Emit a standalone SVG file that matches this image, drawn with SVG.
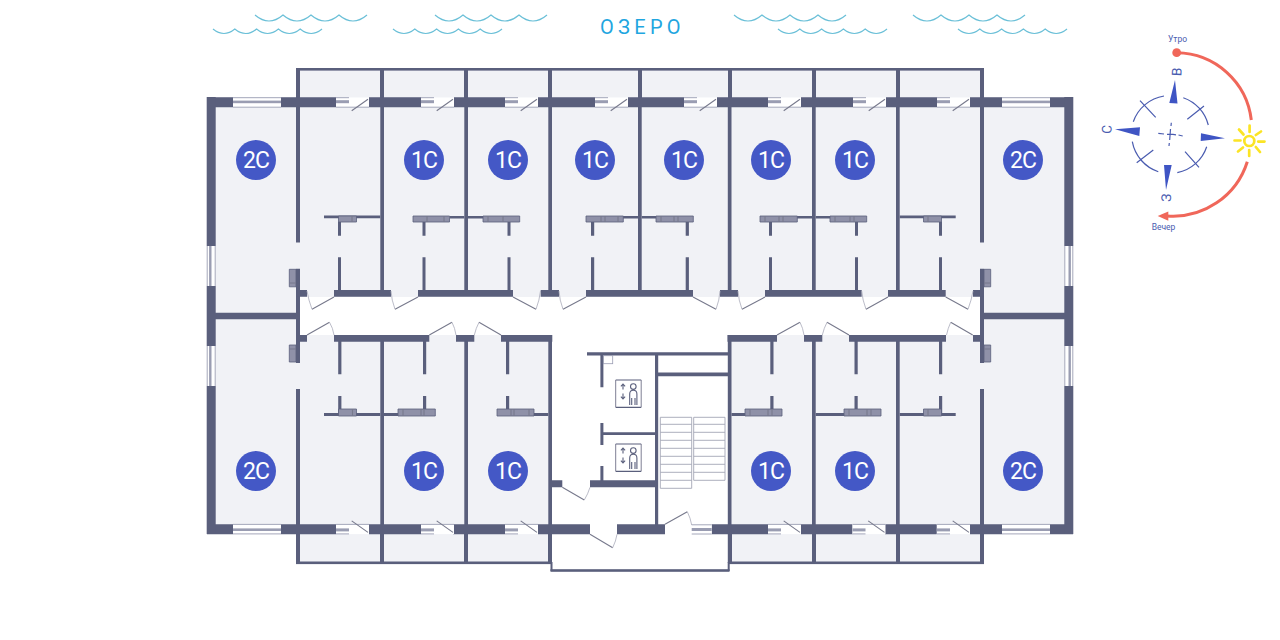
<svg xmlns="http://www.w3.org/2000/svg" xmlns:xlink="http://www.w3.org/1999/xlink" width="1280" height="640" viewBox="0 0 1280 640">
<style>
.w{fill:#5a5f7c}
.f{fill:#f1f2f6}
.n{fill:#fff}
.b{fill:#8f91a8;stroke:#5a5f7c;stroke-width:.8}
.g{fill:#9a9db2}
.o{fill:none;stroke:#9a9db2;stroke-width:.9}
.leaf{fill:none;stroke:#77798c;stroke-width:1.1}
.swing{fill:none;stroke:#a9abba;stroke-width:.8}
.stair{fill:none;stroke:#a4a6b5;stroke-width:.9}
.wave{fill:none;stroke:#6cc0d8;stroke-width:1.2}
.badge{fill:#4458c6}
.bt{fill:#fff;font:400 23px Roboto,"Noto Sans",sans-serif;text-anchor:middle;letter-spacing:-1px}
.comp{fill:none;stroke:#4a5cb0;stroke-width:1.2}
.tri{fill:#3f55c4}
.lbl{fill:#4a5cb0;font-family:Roboto,"Noto Sans",sans-serif;text-anchor:middle}
.sun{fill:none;stroke:#fbe425;stroke-width:2.7;stroke-linecap:round}
.sol{fill:none;stroke:#f0675a;stroke-width:3}
.lf{fill:none;stroke:#5a5f7c;stroke-width:1.1}
</style>
<defs>
<g id="wv1"><path class="wave" d="M0 15q14 12 28 0q14 12 28 0q14 12 28 0q14 12 28 0"/></g>
<g id="wv2"><path class="wave" d="M0 29q11 9 21.8 0q11 9 21.8 0q11 9 21.8 0q11 9 21.8 0q11 9 21.8 0"/></g>
<g id="pd">
<rect class="n" x="0" y="0.3" width="33" height="10"/>
<path class="o" d="M0 .5H13M0 10H33"/>
<rect class="g" x="0" y="3" width="13" height="3"/>
<path class="leaf" d="M32 2L15.7 13.5"/>
</g>
<g id="wn"><rect class="n" x="0" y=".3" width="48" height="10"/><path class="o" d="M0 .5H48M0 10H48"/><rect class="g" x="0" y="3.4" width="48" height="2.6"/></g>
<g id="wv"><rect class="n" x="0" y="0" width="9" height="40"/><path class="o" d="M.5 0V40M8.5 0V40"/><rect class="g" x="2.4" y="0" width="2.4" height="40"/></g>
<g id="lift">
<path d="M0 0H25.5M0 27.3H25.5" fill="none" stroke="#5a5f7c" stroke-width="1.2"/>
<path d="M0 0V27.3M25.5 0V27.3" fill="none" stroke="#6f7288" stroke-width=".9"/>
<circle class="lf" cx="17.6" cy="6.6" r="2.8"/>
<path class="lf" d="M14 25V14Q14 10.2 17.6 10.2T21.2 14V25M16 25V18M19.3 25V18"/>
<path class="lf" d="M7.3 9.5V4.5M5.2 6.4L7.3 4L9.4 6.4M7.3 13.5V18.5M5.2 16.6L7.3 19L9.4 16.6"/>
</g>
</defs>

<g id="lake">
<use xlink:href="#wv1" href="#wv1" x="255"/><use xlink:href="#wv1" href="#wv1" x="435"/><use xlink:href="#wv1" href="#wv1" x="734"/><use xlink:href="#wv1" href="#wv1" x="913"/>
<use xlink:href="#wv2" href="#wv2" x="213"/><use xlink:href="#wv2" href="#wv2" x="393"/><use xlink:href="#wv2" href="#wv2" x="778"/><use xlink:href="#wv2" href="#wv2" x="958"/>
<text x="600" y="34" fill="#1fa6e0" font-family="Roboto,'Noto Sans',sans-serif" font-weight="400" font-size="20" letter-spacing="4.3">ОЗЕРО</text>
</g>

<g id="floors">
<rect class="f" x="207" y="97" width="866" height="437"/>
<rect class="f" x="296" y="68" width="688" height="30"/>
<rect class="f" x="296" y="533" width="688" height="30"/>
<rect class="n" x="300" y="297" width="680" height="38"/>
<rect class="n" x="552" y="335" width="176" height="235"/>
</g>

<g id="walls">
<!-- balcony frame -->
<rect class="w" x="296" y="68" width="688" height="2.6"/>
<rect class="w" x="296" y="561.5" width="255" height="2.6"/>
<rect class="w" x="728" y="561.5" width="256" height="2.6"/>
<rect class="w" x="550.5" y="569.2" width="179" height="2.6"/>
<rect class="w" x="550.5" y="562" width="2" height="9"/>
<rect class="w" x="727.7" y="562" width="2" height="9"/>
<path class="w" d="M296 68h4v30h-4zM380 68h4v30h-4zM464 68h4v30h-4zM548 68h4v30h-4zM638 68h4v30h-4zM728 68h4v30h-4zM812 68h4v30h-4zM896 68h4v30h-4zM980 68h4v30h-4z"/>
<path class="w" d="M296 533h4v31h-4zM380 533h4v31h-4zM464 533h4v31h-4zM548 533h4v31h-4zM728 533h4v31h-4zM812 533h4v31h-4zM896 533h4v31h-4zM980 533h4v31h-4z"/>
<!-- outer top -->
<path class="w" d="M207 97.3h26v10h-26zM281 97.3h55v10h-55zM369 97.3h52v10h-52zM454 97.3h51v10h-51zM538 97.3h57v10h-57zM628 97.3h56v10h-56zM717 97.3h51v10h-51zM801 97.3h52v10h-52zM886 97.3h51v10h-51zM970 97.3h32v10h-32zM1050 97.3h23v10h-23z"/>
<!-- outer bottom -->
<path class="w" d="M207 524.3h26v10h-26zM281 524.3h55v10h-55zM369 524.3h52v10h-52zM453 524.3h52v10h-52zM538 524.3h52v10h-52zM617 524.3h48v10h-48zM711.7 524.3h56.3v10h-56.3zM801 524.3h51.5v10h-51.5zM885 524.3h51.7v10h-51.7zM970 524.3h32v10h-32zM1050 524.3h23v10h-23z"/>
<!-- outer sides -->
<path class="w" d="M206.7 97h9v149h-9zM206.7 286h9v60h-9zM206.7 386h9v148h-9zM1064.3 97h9v149h-9zM1064.3 286h9v60h-9zM1064.3 386h9v148h-9z"/>
<!-- party walls -->
<path class="w" d="M215 312.8h81v6.5h-81zM984 312.8h81v6.5h-81z"/>
<path class="w" d="M296 107h4v135.5h-4zM296 268.7h4v94.3h-4zM296 389h4v136h-4zM980 107h4v135.5h-4zM980 268.7h4v94.3h-4zM980 389h4v136h-4z"/>
<path class="w" d="M380.3 107h3.7v183h-3.7zM464.3 107h3.7v183h-3.7zM548.3 107h3.7v184h-3.7zM638 107h3.7v183h-3.7zM727.8 107h3.7v184h-3.7zM812 107h3.7v183h-3.7zM896 107h3.7v183h-3.7z"/>
<path class="w" d="M380.3 341h3.7v184h-3.7zM464.3 341h3.7v184h-3.7zM548.3 335h3.7v228h-3.7zM727.8 335h3.7v228h-3.7zM812 341h3.7v184h-3.7zM896 341h3.7v184h-3.7z"/>
<!-- corridor walls -->
<path class="w" d="M296 290h11v6.8h-11zM334 290h57v6.8h-57zM418 290h95v6.8h-95zM540.7 290h18.3v6.8h-18.3zM586 290h107v6.8h-107zM720 290h18v6.8h-18zM765 290h96.7v6.8h-96.7zM888 290h57.7v6.8h-57.7zM973 290h11v6.8h-11z"/>
<path class="w" d="M296 335h11v6.8h-11zM334 335h95.3v6.8h-95.3zM456 335h18.3v6.8h-18.3zM501 335h51.3v6.8h-51.3zM727.5 335h49.5v6.8h-49.5zM804 335h18.3v6.8h-18.3zM849 335h97v6.8h-97zM973 335h11v6.8h-11z"/>
<!-- bathroom partitions upper -->
<path class="w" d="M324 215.5h56.3v2.8h-56.3zM450 216h14.3v2.4h-14.3zM468 216h15v2.4h-15zM623 216h15v2.4h-15zM641.7 216h14.3v2.4h-14.3zM797 216h15v2.4h-15zM815.7 216h14.3v2.4h-14.3zM899.7 215.5h56v2.8h-56z"/>
<path class="w" d="M338 222h3v13.7h-3zM338 257.3h3v33h-3zM422.5 222h3v13.7h-3zM422.5 257.3h3v33h-3zM507.5 222h3v13.7h-3zM507.5 257.3h3v33h-3zM591 222h3.2v13.7h-3.2zM591 257.3h3.2v33h-3.2zM685.7 222h3.2v13.7h-3.2zM685.7 257.3h3.2v33h-3.2zM769 222h3v13.7h-3zM769 257.3h3v33h-3zM855 222h3v13.7h-3zM855 257.3h3v33h-3zM939 222h3v13.7h-3zM939 257.3h3v33h-3z"/>
<!-- bathroom partitions lower -->
<path class="w" d="M324 413h56.3v3h-56.3zM384 413h14v3h-14zM534 413h14.3v3h-14.3zM731.5 413h13.5v3h-13.5zM815.7 413h28.3v3h-28.3zM899.7 413h56v3h-56z"/>
<path class="w" d="M338.2 341h3.2v33.3h-3.2zM338.2 396h3.2v17h-3.2zM423 341h3.2v33.3h-3.2zM423 396h3.2v13h-3.2zM506 341h3.2v33.3h-3.2zM506 396h3.2v13h-3.2zM770.3 341h3.2v33.3h-3.2zM770.3 396h3.2v13h-3.2zM854.5 341h3.2v33.3h-3.2zM854.5 396h3.2v13h-3.2zM939 341h3.2v33.3h-3.2zM939 396h3.2v17h-3.2z"/>
<!-- core -->
<path class="w" d="M587 352.3h141v3.2h-141zM655 352.3h3.2v173h-3.2zM657 372.6h71v3.6h-71zM600.4 354h3v33.3h-3zM600.4 423h3v22h-3zM600.4 466h3v16h-3zM602 432.3h53v2.8h-53zM590 480.2h65v7h-65zM552 480.2h10.3v7h-10.3z"/>
</g>

<g id="fixtures">
<!-- shafts -->
<path class="b" d="M289.3 269.3h6.7v17.5h-6.7zM289.3 345h6.7v17h-6.7zM984 269.3h6.7v17.5h-6.7zM984 345h6.7v17h-6.7z"/>
<path class="leaf" d="M289.3 283h6.7M289.3 349h6.7M984 283h6.7M984 349h6.7"/>
<!-- upper ducts -->
<path class="b" d="M338.5 216h18v6h-18zM413 216h36.5v6h-36.5zM483 216h36.7v6h-36.7zM586 216h37.3v6h-37.3zM656 216h37.3v6h-37.3zM760 216h37.3v6h-37.3zM830 216h36.7v6h-36.7zM923.5 216h18v6h-18z"/>
<path class="leaf" d="M352 216v6M427 216v6M444 216v6M488 216v6M503 216v6M601 216v6M605 216v6M618 216v6M661 216v6M674 216v6M678 216v6M765 216v6M779 216v6M783 216v6M835 216v6M850 216v6M854 216v6M928 216v6"/>
<!-- lower ducts -->
<path class="b" d="M338.5 409h18v7h-18zM398 409h37.3v7h-37.3zM497 409h37v7h-37zM745 409h37v7h-37zM844 409h37v7h-37zM923.5 409h18v7h-18z"/>
<path class="leaf" d="M352.5 409v7M403 409v7M421 409v7M424 409v7M511 409v7M514 409v7M529 409v7M750 409v7M768 409v7M772 409v7M849 409v7M867 409v7M871 409v7M928 409v7"/>
<rect x="603.3" y="355.7" width="9.4" height="8" fill="none" stroke="#9a9db2" stroke-width=".8"/>
<use xlink:href="#lift" href="#lift" transform="translate(615.7 380)"/>
<use xlink:href="#lift" href="#lift" transform="translate(615.7 444)"/>
<!-- stairs -->
<path class="stair" d="M660.3 417.3H691.7V488.3H660.3ZM693.7 417.3H725V480.3H693.7Z"/>
<path class="stair" d="M660.3 424.3H691.7M660.3 432.3H691.7M660.3 440.3H691.7M660.3 448.3H691.7M660.3 456.3H691.7M660.3 464.3H691.7M660.3 472.3H691.7M660.3 480.3H691.7M693.7 424.3H725M693.7 432.3H725M693.7 440.3H725M693.7 448.3H725M693.7 456.3H725M693.7 464.3H725M693.7 472.3H725"/>
</g>

<g id="windows">
<use xlink:href="#wn" href="#wn" x="233" y="97.2"/>
<use xlink:href="#wn" href="#wn" x="1002" y="97.2"/>
<use xlink:href="#wn" href="#wn" transform="translate(233 534.4) scale(1 -1)"/>
<use xlink:href="#wn" href="#wn" transform="translate(1002 534.4) scale(1 -1)"/>
<use xlink:href="#wv" href="#wv" x="206.7" y="246"/>
<use xlink:href="#wv" href="#wv" x="206.7" y="346"/>
<use xlink:href="#wv" href="#wv" transform="translate(1073.3 246) scale(-1 1)"/>
<use xlink:href="#wv" href="#wv" transform="translate(1073.3 346) scale(-1 1)"/>
<use xlink:href="#pd" href="#pd" x="336" y="97.2"/><use xlink:href="#pd" href="#pd" x="421" y="97.2"/><use xlink:href="#pd" href="#pd" x="505" y="97.2"/><use xlink:href="#pd" href="#pd" x="595" y="97.2"/><use xlink:href="#pd" href="#pd" x="684" y="97.2"/><use xlink:href="#pd" href="#pd" x="768" y="97.2"/><use xlink:href="#pd" href="#pd" x="853" y="97.2"/><use xlink:href="#pd" href="#pd" x="937" y="97.2"/>
<use xlink:href="#pd" href="#pd" transform="translate(336 534.4) scale(1 -1)"/><use xlink:href="#pd" href="#pd" transform="translate(421 534.4) scale(1 -1)"/><use xlink:href="#pd" href="#pd" transform="translate(505 534.4) scale(1 -1)"/><use xlink:href="#pd" href="#pd" transform="translate(768 534.4) scale(1 -1)"/><use xlink:href="#pd" href="#pd" transform="translate(852.5 534.4) scale(1 -1)"/><use xlink:href="#pd" href="#pd" transform="translate(937 534.4) scale(1 -1)"/>
<rect class="n" x="691.7" y="524.4" width="20" height="10"/>
<path class="o" d="M691.7 524.8H711.7M691.7 534H711.7"/>
<rect class="g" x="691.7" y="528" width="20" height="3"/>
</g>

<g id="doors">
<path class="leaf" d="M334 297L312 309.3M418 297L395 309.3M513 297L536 309.3M586 297L563 309.3M693 297L716 309.3M765 297L742 309.3M888 297L866 309.3M945.7 297L968 309.3"/>
<path class="swing" d="M312 309.3Q308.5 300 307 291M395 309.3Q391.5 300 391 291M536 309.3Q539.5 300 540.5 291M563 309.3Q559.5 300 559 291M716 309.3Q719.5 300 720 291M742 309.3Q738.5 300 738 291M866 309.3Q862.5 300 861.7 291M968 309.3Q971.5 300 973 291"/>
<path class="leaf" d="M307 335L329.5 322.3M429.3 335L452 322.3M501 335L479 322.3M777 335L800 322.3M849 335L827 322.3M972.7 335L950.7 322.3"/>
<path class="swing" d="M329.5 322.3Q333 328 334 335M452 322.3Q455 328 456 335M479 322.3Q476 328 474.3 335M800 322.3Q803 328 804 335M827 322.3Q824 328 822.3 335M950.7 322.3Q948 328 946.5 335"/>
<path class="leaf" d="M665 524.3L687.3 511.7M590 534.3L612.7 547.7M562.3 487.3L584.3 500"/>
<path class="swing" d="M687.3 511.7Q690.5 518 691.7 525M612.7 547.7Q616 541 617 534.3M584.3 500Q588 494 590 487.3"/>
</g>

<g id="apt-2c-nw"><circle class="badge" cx="256" cy="160" r="20"/><text class="bt" x="256" y="168.3">2С</text></g>
<g id="apt-1c-1"><circle class="badge" cx="424" cy="160" r="20"/><text class="bt" x="424" y="168.3">1С</text></g>
<g id="apt-1c-2"><circle class="badge" cx="508" cy="160" r="20"/><text class="bt" x="508" y="168.3">1С</text></g>
<g id="apt-1c-3"><circle class="badge" cx="595" cy="160" r="20"/><text class="bt" x="595" y="168.3">1С</text></g>
<g id="apt-1c-4"><circle class="badge" cx="684" cy="160" r="20"/><text class="bt" x="684" y="168.3">1С</text></g>
<g id="apt-1c-5"><circle class="badge" cx="771" cy="160" r="20"/><text class="bt" x="771" y="168.3">1С</text></g>
<g id="apt-1c-6"><circle class="badge" cx="855" cy="160" r="20"/><text class="bt" x="855" y="168.3">1С</text></g>
<g id="apt-2c-ne"><circle class="badge" cx="1023" cy="160" r="20"/><text class="bt" x="1023" y="168.3">2С</text></g>
<g id="apt-2c-sw"><circle class="badge" cx="256" cy="471" r="20"/><text class="bt" x="256" y="479.3">2С</text></g>
<g id="apt-1c-7"><circle class="badge" cx="424" cy="471" r="20"/><text class="bt" x="424" y="479.3">1С</text></g>
<g id="apt-1c-8"><circle class="badge" cx="508" cy="471" r="20"/><text class="bt" x="508" y="479.3">1С</text></g>
<g id="apt-1c-9"><circle class="badge" cx="771" cy="471" r="20"/><text class="bt" x="771" y="479.3">1С</text></g>
<g id="apt-1c-10"><circle class="badge" cx="855" cy="471" r="20"/><text class="bt" x="855" y="479.3">1С</text></g>
<g id="apt-2c-se"><circle class="badge" cx="1023" cy="471" r="20"/><text class="bt" x="1023" y="479.3">2С</text></g>

<g id="compass">
<path class="comp" d="M1133.3 121.7A39 39 0 0 1 1164 96M1183.3 97.7A39 39 0 0 1 1208.3 125M1206.7 146.7A39 39 0 0 1 1177.3 172.7M1158.3 171.7A39 39 0 0 1 1132.3 141.7"/>
<path class="comp" d="M1140 100.7L1155.7 117.3M1204 106L1187.3 119.3M1185 151.7L1199 167.3M1153.3 150L1136.7 162.7"/>
<path class="comp" d="M1158.3 133.3L1164 134M1167 134.3H1173L1176 134.8M1178.5 135L1182.7 136M1171.3 122.7L1171 126M1170.5 129L1169.7 140M1169.3 143L1169 146"/>
<path class="tri" d="M1175 80L1177.5 103.5L1169.3 103ZM1115 129.3L1140 127.3L1139.3 136ZM1225 138.3L1201 133.3L1200.7 141ZM1166 190L1164 165L1171.7 165Z"/>
<text class="lbl" font-size="13.5" transform="translate(1181.5 72) rotate(-87)">В</text>
<text class="lbl" font-size="13.5" transform="translate(1111.5 129.5) rotate(-87)">С</text>
<text class="lbl" font-size="13.5" transform="translate(1171 198) rotate(-87)">З</text>
<text class="lbl" font-size="8.5" x="1177.5" y="42">Утро</text>
<text class="lbl" font-size="8.5" x="1163.5" y="230">Вечер</text>
<circle cx="1176.7" cy="52.7" r="4.4" fill="#f0675a"/>
<path class="sol" d="M1176.7 52.7A76 76 0 0 1 1251.3 120"/>
<path class="sol" d="M1247.3 161.7A78 78 0 0 1 1167 216"/>
<path fill="#f0675a" d="M1157.7 216L1168.3 211.5V220.7Z"/>
<circle class="sun" cx="1249.3" cy="141" r="5"/>
<path class="sun" d="M1249.6 132V125.5M1255.8 135L1261 131.5M1258.2 141.6H1264.5M1255.8 147L1260 152M1249.2 150V156M1243 147.5L1238 151.5M1240.5 140.5H1234.5M1243.5 134.5L1239 129.5"/>
</g>
</svg>
